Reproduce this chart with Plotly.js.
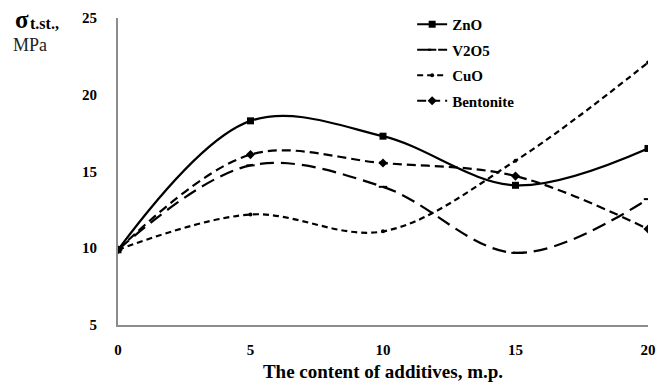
<!DOCTYPE html>
<html>
<head>
<meta charset="utf-8">
<script src="https://cdn.plot.ly/plotly-3.0.1.min.js"></script>
<style>html,body{margin:0;padding:0;background:#fff;}#chart{width:660px;height:387px;}</style>
</head>
<body>
<div id="chart"></div>
<script>
const xValues = [0, 5, 10, 15, 20];
const seriesNames = ["ZnO", "V2O5", "CuO", "Bentonite"];
const znO = [9.9, 18.3, 17.3, 14.1, 16.5];
const v2O5 = [9.9, 15.4, 14.0, 9.7, 13.2];
const cuO = [9.9, 12.2, 11.1, 15.7, 22.1];
const bentonite = [9.9, 16.1, 15.55, 14.7, 11.25];
const yTicks = [5, 10, 15, 20, 25];
const xTicks = [0, 5, 10, 15, 20];

const FONT = "Liberation Serif, serif";
const seriesValues = [znO, v2O5, cuO, bentonite];
const dashes = ["solid", "14px,7px", "6px,4px", "9px,5px"];
const markers = [
  {symbol: "square", size: 7, color: "#000"},
  {symbol: "line-ew-open", size: 6, color: "#000", line: {width: 2, color: "#000"}},
  {symbol: "circle", size: 4, color: "#000"},
  {symbol: "diamond", size: 7, color: "#000"}
];

const traces = seriesNames.map((name, i) => ({
  x: xValues, y: seriesValues[i], name: "<b>" + name + "</b>", type: "scatter", mode: "lines+markers",
  line: {color: "#000", width: 2.2, dash: dashes[i], shape: "spline", smoothing: 1},
  marker: markers[i], legendgroup: "g" + i
}));

const bold = v => "<b>" + v + "</b>";

const layout = {
  width: 660, height: 387,
  margin: {l: 118, r: 12, t: 8, b: 62},
  paper_bgcolor: "#fff", plot_bgcolor: "#fff",
  font: {family: FONT},
  showlegend: true,
  legend: {x: 0.555, y: 1.0, xanchor: "left", yanchor: "top", tracegroupgap: 3,
           font: {family: FONT, size: 15, color: "#000"}, bgcolor: "rgba(0,0,0,0)"},
  xaxis: {range: [0, 20], tickvals: xTicks, ticktext: xTicks.map(bold), showgrid: false, zeroline: false,
          showline: true, linecolor: "#8c8c8c", linewidth: 2, ticks: "", ticklabelstandoff: 10,
          tickfont: {family: FONT, size: 15, color: "#000"},
          title: {text: "<b>The content of additives, m.p.</b>", standoff: 8,
                  font: {family: FONT, size: 19, color: "#000"}}},
  yaxis: {range: [5, 25], domain: [0, 0.9685], tickvals: yTicks, ticktext: yTicks.map(bold), showgrid: false, zeroline: false,
          showline: true, linecolor: "#8c8c8c", linewidth: 2, ticks: "", ticklabelstandoff: 16,
          tickfont: {family: FONT, size: 15, color: "#000"}},
  annotations: [
    {xref: "paper", yref: "paper", x: -0.198, y: 0.965, xanchor: "left", yanchor: "middle",
     showarrow: false, text: "<b>σ</b>", font: {family: FONT, size: 25, color: "#000"}},
    {xref: "paper", yref: "paper", x: -0.170, y: 0.952, xanchor: "left", yanchor: "middle",
     showarrow: false, text: "<b>t.st.,</b>", font: {family: FONT, size: 16, color: "#000"}},
    {xref: "paper", yref: "paper", x: -0.202, y: 0.883, xanchor: "left", yanchor: "middle",
     showarrow: false, text: "MPa", font: {family: FONT, size: 18, color: "#222"}}
  ]
};

Plotly.newPlot("chart", traces, layout, {displayModeBar: false, staticPlot: true});
</script>
</body>
</html>
